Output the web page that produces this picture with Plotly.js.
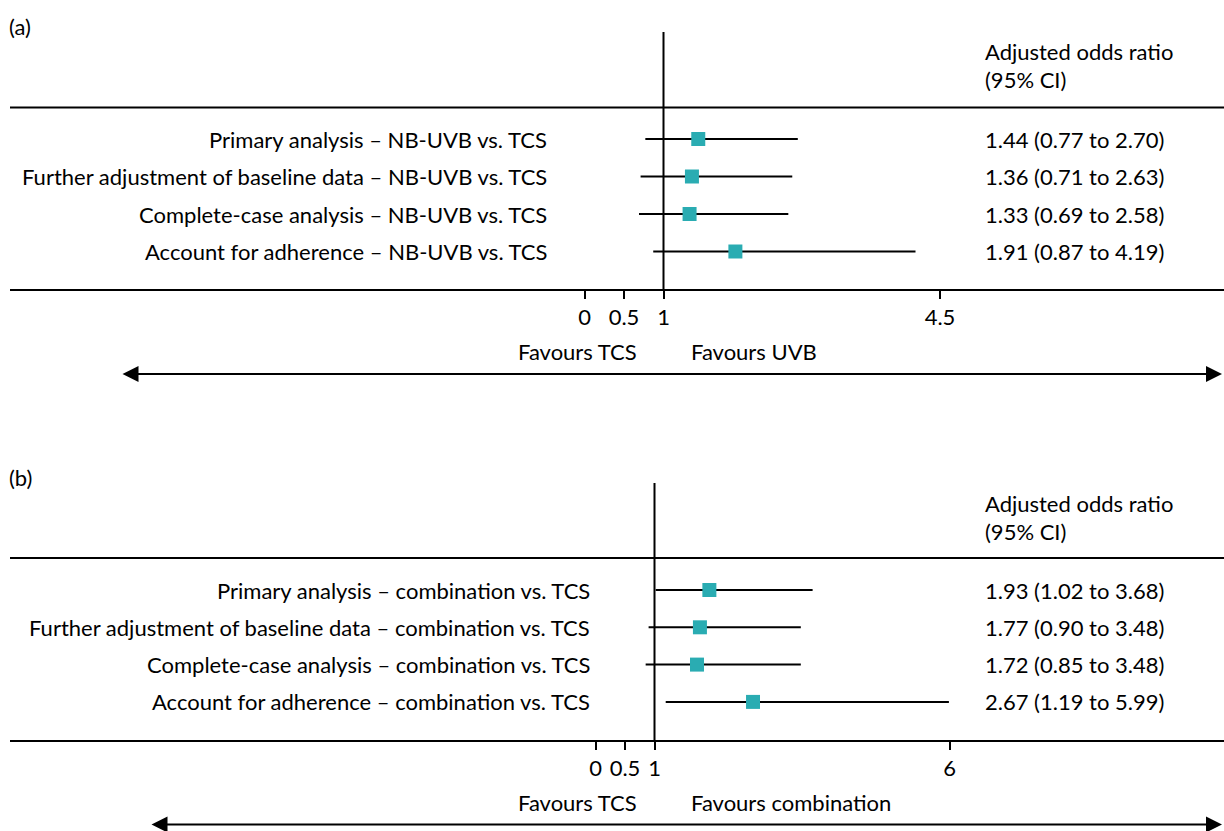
<!DOCTYPE html>
<html>
<head>
<meta charset="utf-8">
<script src="https://cdn.plot.ly/plotly-3.0.1.min.js"></script>
<style>
  html, body { margin: 0; padding: 0; background: #fff; }
  #chart { width: 1224px; height: 831px; }
</style>
</head>
<body>
<div id="chart"></div>
<script>
// ---------- DATA ----------
const panelA_labels = [
  "Primary analysis – NB-UVB vs. TCS",
  "Further adjustment of baseline data – NB-UVB vs. TCS",
  "Complete-case analysis – NB-UVB vs. TCS",
  "Account for adherence – NB-UVB vs. TCS"
];
const panelA_or = [1.44, 1.36, 1.33, 1.91];
const panelA_lo = [0.77, 0.71, 0.69, 0.87];
const panelA_hi = [2.70, 2.63, 2.58, 4.19];
const panelA_ticks = [0, 0.5, 1, 4.5];
const panelA_tickText = ["0", "0.5", "1", "4.5"];
const panelA_favours = ["Favours TCS", "Favours UVB"];

const panelB_labels = [
  "Primary analysis – combination vs. TCS",
  "Further adjustment of baseline data – combination vs. TCS",
  "Complete-case analysis – combination vs. TCS",
  "Account for adherence – combination vs. TCS"
];
const panelB_or = [1.93, 1.77, 1.72, 2.67];
const panelB_lo = [1.02, 0.90, 0.85, 1.19];
const panelB_hi = [3.68, 3.48, 3.48, 5.99];
const panelB_ticks = [0, 0.5, 1, 6];
const panelB_tickText = ["0", "0.5", "1", "6"];
const panelB_favours = ["Favours TCS", "Favours combination"];

const panelTags = ["(a)", "(b)"];
const headerLines = ["Adjusted odds ratio", "(95% CI)"];

// ---------- LAYOUT HELPERS ----------
const W = 1224, H = 831;
const px = p => p / W;          // pixel x -> paper
const py = p => 1 - p / H;      // pixel y -> paper
const FONT = { family: "Lato, 'Open Sans', sans-serif", size: 22, color: "#000" };
const TEAL = "#2AACB2";

function fmt(v) { return v.toFixed(2); }

function panel(cfg) {
  const idx = cfg.labels.map((_, i) => i);
  const trace = {
    type: "scatter", mode: "markers",
    x: cfg.or, y: idx,
    xaxis: cfg.xa, yaxis: cfg.ya,
    marker: { symbol: "square", size: 14, color: TEAL },
    error_x: {
      type: "data", symmetric: false,
      array: cfg.hi.map((h, i) => h - cfg.or[i]),
      arrayminus: cfg.lo.map((l, i) => cfg.or[i] - l),
      width: 0, thickness: 2, color: "#000"
    },
    cliponaxis: false, hoverinfo: "skip", showlegend: false
  };
  const ann = [];
  cfg.labels.forEach((t, i) => {
    ann.push({ xref: "paper", yref: cfg.ya, x: px(cfg.labelRight), y: i,
      xanchor: "right", yanchor: "middle", text: t, showarrow: false, font: FONT });
    ann.push({ xref: "paper", yref: cfg.ya, x: px(983), y: i,
      xanchor: "left", yanchor: "middle",
      text: `${fmt(cfg.or[i])} (${fmt(cfg.lo[i])} to ${fmt(cfg.hi[i])})`,
      showarrow: false, font: FONT });
  });
  // header
  ann.push({ xref: "paper", yref: "paper", x: px(983), y: py(cfg.top + 20), xanchor: "left", yanchor: "middle",
    text: headerLines[0], showarrow: false, font: FONT });
  ann.push({ xref: "paper", yref: "paper", x: px(983), y: py(cfg.top + 48), xanchor: "left", yanchor: "middle",
    text: headerLines[1], showarrow: false, font: FONT });
  // panel tag
  ann.push({ xref: "paper", yref: "paper", x: px(7), y: py(cfg.top - 6), xanchor: "left", yanchor: "middle",
    text: cfg.tag, showarrow: false, font: FONT });
  // favours labels
  ann.push({ xref: "paper", yref: "paper", x: px(639), y: py(cfg.bottom + 61), xanchor: "right", yanchor: "middle",
    text: cfg.favours[0], showarrow: false, font: FONT });
  ann.push({ xref: "paper", yref: "paper", x: px(689), y: py(cfg.bottom + 61), xanchor: "left", yanchor: "middle",
    text: cfg.favours[1], showarrow: false, font: FONT });
  // double arrow
  ann.push({ xref: "paper", yref: "paper", axref: "paper", ayref: "paper",
    x: px(1222), y: py(cfg.arrowY), ax: px(cfg.arrowLeft), ay: py(cfg.arrowY),
    text: "", showarrow: true, arrowside: "end+start", arrowhead: 2, arrowsize: 1.6,
    arrowwidth: 2, arrowcolor: "#000", standoff: 0, startstandoff: 0 });

  const shapes = [
    { type: "line", xref: "paper", yref: "paper", x0: px(10), x1: px(1224), y0: py(cfg.rule), y1: py(cfg.rule),
      line: { color: "#000", width: 2 } },
    { type: "line", xref: "paper", yref: "paper", x0: px(10), x1: px(1224), y0: py(cfg.bottom), y1: py(cfg.bottom),
      line: { color: "#000", width: 2 } },
    { type: "line", xref: cfg.xa, yref: cfg.ya + " domain", x0: 1, x1: 1, y0: 0, y1: 1,
      line: { color: "#000", width: 2 } }
  ];
  return { trace, ann, shapes };
}

// Panel geometry (pixels)
const A = panel({
  labels: panelA_labels, or: panelA_or, lo: panelA_lo, hi: panelA_hi,
  favours: panelA_favours, tag: panelTags[0], xa: "x", ya: "y",
  labelRight: 549, top: 32, rule: 107.5, bottom: 290, arrowY: 374, arrowLeft: 121
});
const B = panel({
  labels: panelB_labels, or: panelB_or, lo: panelB_lo, hi: panelB_hi,
  favours: panelB_favours, tag: panelTags[1], xa: "x2", ya: "y2",
  labelRight: 592, top: 483, rule: 558, bottom: 741, arrowY: 824.5, arrowLeft: 150
});

const axisCommon = {
  showgrid: false, zeroline: false, showline: false,
  ticks: "outside", ticklen: 8, tickwidth: 2, tickcolor: "#000",
  tickfont: FONT, fixedrange: true
};

// panel a: 0 at 584.5px, 79 px per unit
const aX0 = 584.5, aU = 79;
// panel b: 0 at 595.5px, 59 px per unit
const bX0 = 595.5, bU = 59;
// rows: panel a first row at 139px, spacing 37.5; panel b first row 590px, spacing 37.3
const aRow0 = 139, aSp = 37.5, bRow0 = 590, bSp = 37.3;

const layout = {
  width: W, height: H,
  margin: { l: 0, r: 0, t: 0, b: 0 },
  paper_bgcolor: "#fff", plot_bgcolor: "rgba(0,0,0,0)",
  font: FONT,
  showlegend: false,
  xaxis: Object.assign({}, axisCommon, {
    domain: [px(aX0), px(aX0 + 4.5 * aU)], range: [0, 4.5],
    tickvals: panelA_ticks, ticktext: panelA_tickText, anchor: "y"
  }),
  yaxis: {
    domain: [py(290), py(32)], anchor: "x",
    range: [(290 - aRow0) / aSp, (32 - aRow0) / aSp],
    visible: false, fixedrange: true
  },
  xaxis2: Object.assign({}, axisCommon, {
    domain: [px(bX0), px(bX0 + 6 * bU)], range: [0, 6],
    tickvals: panelB_ticks, ticktext: panelB_tickText, anchor: "y2"
  }),
  yaxis2: {
    domain: [py(741), py(483)], anchor: "x2",
    range: [(741 - bRow0) / bSp, (483 - bRow0) / bSp],
    visible: false, fixedrange: true
  },
  shapes: A.shapes.concat(B.shapes),
  annotations: A.ann.concat(B.ann)
};

Plotly.newPlot("chart", [A.trace, B.trace], layout, { staticPlot: true, displayModeBar: false });
</script>
</body>
</html>
